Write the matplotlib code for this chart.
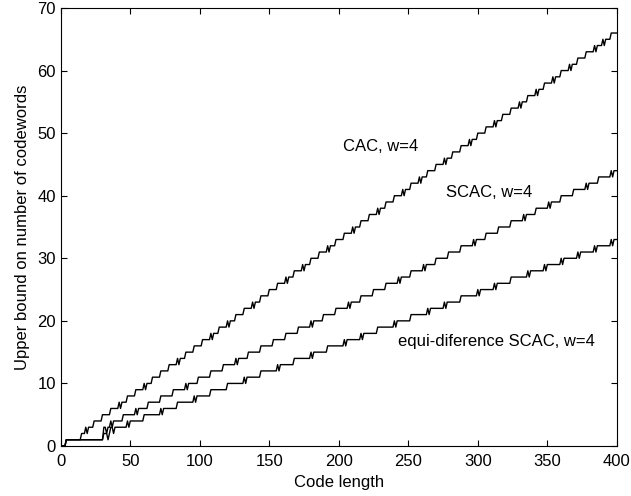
# Upper bounds on number of codewords, w=4
import numpy as np
import matplotlib
matplotlib.use("Agg")
from matplotlib import pyplot as plt

plt.rcParams['font.family'] = ['Liberation Sans', 'DejaVu Sans']

# code lengths where each curve goes up by one
cacSteps = [4, 15, 18, 24, 30, 36, 42, 48, 54, 60, 66, 72, 78, 84, 90, 96,
            102, 108, 114, 120, 126, 132, 138, 144, 150, 156, 162, 168, 174,
            180, 186, 192, 198, 204, 210, 216, 222, 228, 234, 240, 246, 252,
            258, 264, 270, 276, 282, 288, 294, 300, 306, 312, 318, 324, 330,
            336, 342, 348, 354, 360, 366, 372, 378, 384, 390, 396]
scacSteps = [4, 31, 31, 36, 45, 54, 63, 72, 81, 90, 99, 108, 117, 126, 135,
             144, 153, 162, 171, 180, 189, 198, 207, 216, 225, 234, 243, 252,
             261, 270, 279, 288, 297, 306, 315, 324, 333, 342, 351, 360, 369,
             378, 387, 396]
equiSteps = [4, 31, 36, 48, 60, 72, 84, 96, 108, 120, 132, 144, 156, 168, 180,
             192, 204, 216, 228, 240, 252, 264, 276, 288, 300, 312, 324, 336,
             348, 360, 372, 384, 396]

# single code lengths where the bound falls back by one (small blips)
cacDips = [19, 43, 61, 85, 109, 121, 139, 163, 175, 193, 211, 229, 247, 259,
           277, 295, 313, 331, 343, 355, 367, 385, 391]
scacDips = [33, 37, 55, 91, 127, 181, 208, 244, 262, 298, 334, 352, 379, 397]
equiDips = [34, 38, 49, 73, 97, 133, 157, 181, 205, 217, 241, 265, 277, 301,
            313, 337, 349, 361, 373, 385, 397]

codeLength = np.arange(1, 401)


def bound(steps, dips):
    v = np.searchsorted(np.array(steps), codeLength, side='right')
    v = v - np.isin(codeLength, dips).astype(int)
    return v


fig = plt.figure(figsize=(6.31, 4.96), dpi=100)
ax = fig.add_axes([0.0963, 0.1008, 0.8812, 0.8831])

ax.plot(codeLength, bound(cacSteps, cacDips), color='black', lw=1.0)
ax.plot(codeLength, bound(scacSteps, scacDips), color='black', lw=1.0)
ax.plot(codeLength, bound(equiSteps, equiDips), color='black', lw=1.0)

ax.text(203, 47.9, "CAC, w=4", fontsize=12, va='center')
ax.text(277, 40.5, "SCAC, w=4", fontsize=12, va='center')
ax.text(242.6, 16.7, "equi-diference SCAC, w=4", fontsize=12, va='center')

ax.set_xlim(0, 400)
ax.set_ylim(0, 70)
ax.set_xticks(np.arange(0, 401, 50))
ax.set_yticks(np.arange(0, 71, 10))
ax.tick_params(direction='in', top=True, right=True, length=4, labelsize=12)
ax.tick_params(axis='x', pad=6)
ax.set_xlabel("Code length", fontsize=12, labelpad=4)
ax.set_ylabel("Upper bound on number of codewords", fontsize=12, labelpad=5)

fig.savefig("out.png", dpi=100)
